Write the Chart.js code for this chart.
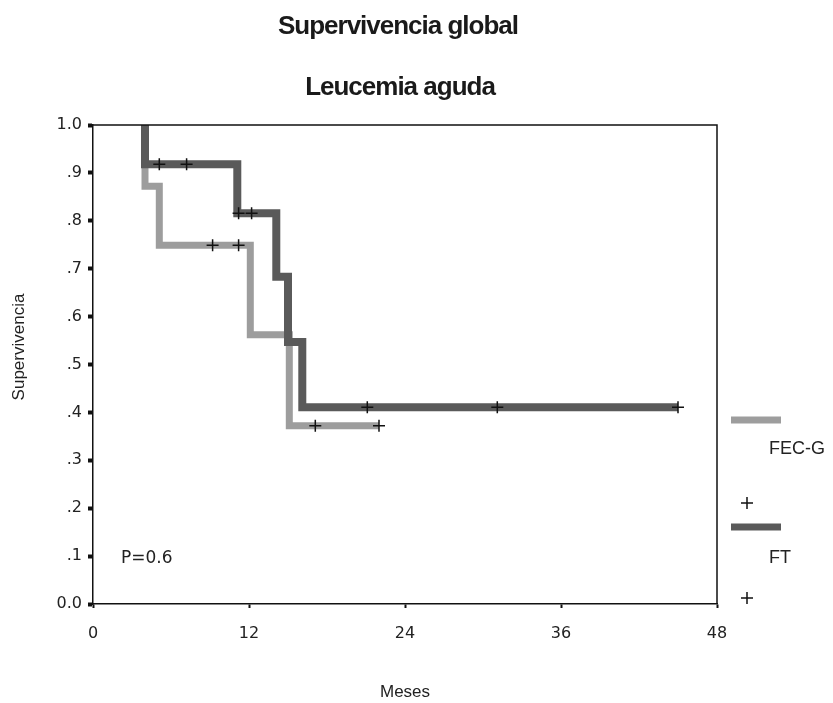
<!DOCTYPE html>
<html><head><meta charset="utf-8">
<script src="https://cdn.jsdelivr.net/npm/chart.js@4/dist/chart.umd.min.js"></script>
<style>html,body{margin:0;padding:0;background:#fff;}#wrap{position:relative;width:833px;height:703px;}</style>
</head><body><div id="wrap"><canvas id="c" width="833" height="703"></canvas></div>
<script>
const titleText = 'Supervivencia global';
const subtitleText = 'Leucemia aguda';
const xAxisTitle = 'Meses';
const yAxisTitle = 'Supervivencia';
const pValueText = 'P=0.6';
const seriesNames = ['FEC-G', 'FT'];
const xTicks = [0, 12, 24, 36, 48];
const yTicks = [0, 0.1, 0.2, 0.3, 0.4, 0.5, 0.6, 0.7, 0.8, 0.9, 1.0];
const yTickLabels = ['0.0', '.1', '.2', '.3', '.4', '.5', '.6', '.7', '.8', '.9', '1.0'];

// FEC-G survival steps (months, survival)
const fecgTimes = [4, 4, 5.1, 12.1, 15.1, 22];
const fecgSurv = [1.0, 0.872, 0.749, 0.562, 0.372, 0.372];
const fecgCensTimes = [9.2, 11.2, 17.1, 22];
const fecgCensSurv = [0.749, 0.749, 0.372, 0.372];

// FT survival steps (months, survival)
const ftTimes = [4, 4, 11.1, 14.1, 15, 16.1, 45];
const ftSurv = [1.0, 0.918, 0.816, 0.683, 0.547, 0.411, 0.411];
const ftCensTimes = [5.1, 7.2, 11.2, 12.2, 21.1, 31.1, 45];
const ftCensSurv = [0.918, 0.918, 0.816, 0.816, 0.411, 0.411, 0.411];

const lightGray = '#9d9d9d';
const darkGray = '#5a5a5a';

function pts(xs, ys) { return xs.map((x, i) => ({ x: x, y: ys[i] })); }

const decor = {
  id: 'decor',
  afterDraw(chart) {
    const ctx = chart.ctx;
    const a = chart.chartArea;
    ctx.save();
    // frame top and right
    ctx.strokeStyle = '#111';
    ctx.lineWidth = 1.5;
    ctx.beginPath();
    ctx.moveTo(a.left, a.top);
    ctx.lineTo(a.right, a.top);
    ctx.lineTo(a.right, a.bottom);
    ctx.stroke();
    // titles
    ctx.fillStyle = '#1a1a1a';
    ctx.textAlign = 'center';
    ctx.textBaseline = 'alphabetic';
    ctx.font = 'bold 26px "Liberation Sans", Arial, sans-serif';
    if ('letterSpacing' in ctx) ctx.letterSpacing = '-1px';
    ctx.fillText(titleText, 398, 34);
    ctx.fillText(subtitleText, 400, 95);
    if ('letterSpacing' in ctx) ctx.letterSpacing = '0px';
    // y axis title
    ctx.save();
    ctx.translate(24, 347);
    ctx.rotate(-Math.PI / 2);
    ctx.font = '17px "Liberation Sans", Arial, sans-serif';
    ctx.fillStyle = '#222';
    ctx.textAlign = 'center';
    ctx.fillText(yAxisTitle, 0, 0);
    ctx.restore();
    // p value
    ctx.textAlign = 'left';
    ctx.font = '17px "DejaVu Sans", sans-serif';
    ctx.fillStyle = '#222';
    ctx.fillText(pValueText, 121, 563);
    // legend
    const items = [
      { name: seriesNames[0], color: lightGray, lineY: 420, textY: 454, plusY: 503 },
      { name: seriesNames[1], color: darkGray, lineY: 527, textY: 563, plusY: 598 }
    ];
    ctx.font = '18px "Liberation Sans", Arial, sans-serif';
    items.forEach(it => {
      ctx.strokeStyle = it.color;
      ctx.lineWidth = 7;
      ctx.beginPath();
      ctx.moveTo(731, it.lineY);
      ctx.lineTo(781, it.lineY);
      ctx.stroke();
      ctx.fillStyle = '#222';
      ctx.fillText(it.name, 769, it.textY);
      ctx.strokeStyle = '#111';
      ctx.lineWidth = 1.5;
      ctx.beginPath();
      ctx.moveTo(741, it.plusY); ctx.lineTo(753, it.plusY);
      ctx.moveTo(747, it.plusY - 6); ctx.lineTo(747, it.plusY + 6);
      ctx.stroke();
    });
    ctx.restore();
  }
};

new Chart(document.getElementById('c'), {
  type: 'scatter',
  data: {
    datasets: [
      { label: seriesNames[1] + ' censored', data: pts(ftCensTimes, ftCensSurv), showLine: false,
        pointStyle: 'cross', pointRadius: 6, pointBorderWidth: 1.5, pointBorderColor: '#111', pointBackgroundColor: '#111' },
      { label: seriesNames[0] + ' censored', data: pts(fecgCensTimes, fecgCensSurv), showLine: false,
        pointStyle: 'cross', pointRadius: 6, pointBorderWidth: 1.5, pointBorderColor: '#111', pointBackgroundColor: '#111' },
      { label: seriesNames[1], data: pts(ftTimes, ftSurv), showLine: true, stepped: 'before',
        borderColor: darkGray, borderWidth: 8, pointRadius: 0, fill: false, borderJoinStyle: 'miter' },
      { label: seriesNames[0], data: pts(fecgTimes, fecgSurv), showLine: true, stepped: 'before',
        borderColor: lightGray, borderWidth: 7, pointRadius: 0, fill: false, borderJoinStyle: 'miter' }
    ]
  },
  options: {
    responsive: false,
    animation: false,
    events: [],
    layout: { padding: { left: 0, right: 116, top: 125, bottom: 0 } },
    plugins: { legend: { display: false }, tooltip: { enabled: false }, title: { display: false } },
    scales: {
      x: {
        type: 'linear', min: 0, max: 48,
        afterBuildTicks(s) { s.ticks = xTicks.map(v => ({ value: v })); },
        afterFit(s) { s.height = 99; },
        grid: { drawOnChartArea: false, drawTicks: true, tickLength: 4, tickWidth: 2, tickColor: '#111' },
        border: { display: true, color: '#111', width: 1.5 },
        ticks: { color: '#222', font: { family: 'DejaVu Sans', size: 16 }, padding: 16, maxRotation: 0 },
        title: { display: true, text: xAxisTitle, color: '#222', font: { family: 'Liberation Sans', size: 17 }, padding: { top: 0, bottom: 0 } }
      },
      y: {
        type: 'linear', min: 0, max: 1,
        afterBuildTicks(s) { s.ticks = yTicks.map(v => ({ value: v })); },
        afterFit(s) { s.width = 93; },
        grid: { drawOnChartArea: false, drawTicks: true, tickLength: 5, tickWidth: 4, tickColor: '#111' },
        border: { display: true, color: '#111', width: 1.5 },
        ticks: { color: '#222', font: { family: 'DejaVu Sans', size: 16 }, padding: 6,
          callback: (v) => { const i = yTicks.findIndex(t => Math.abs(t - v) < 1e-6); return i >= 0 ? yTickLabels[i] : ''; } },
        title: { display: false }
      }
    }
  },
  plugins: [decor]
});
</script>
</body></html>
